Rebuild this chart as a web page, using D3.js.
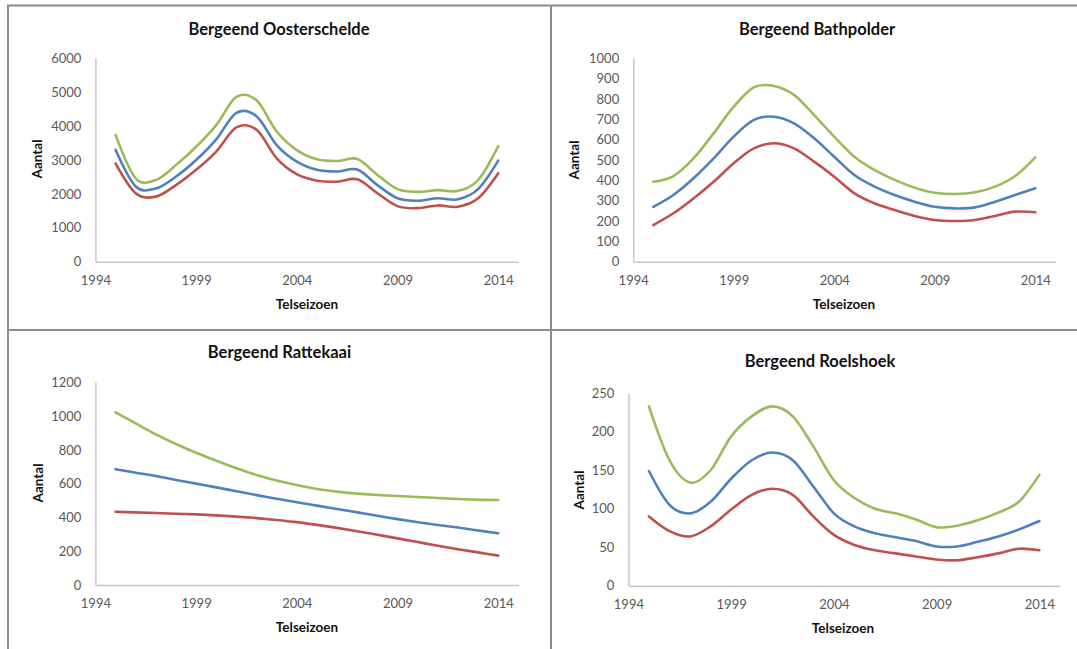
<!DOCTYPE html>
<html>
<head>
<meta charset="utf-8">
<script src="https://cdn.jsdelivr.net/npm/d3@7/dist/d3.min.js"></script>
<style>
  body { margin: 0; background: #fff; }
  svg { display: block; }
  text { font-family: Lato, "Open Sans", sans-serif; }
</style>
</head>
<body>
<div id="chart"></div>
<script>
// telseizoenen
const years = [1995, 1996, 1997, 1998, 1999, 2000, 2001, 2002, 2003, 2004,
               2005, 2006, 2007, 2008, 2009, 2010, 2011, 2012, 2013, 2014];
const xTicks = [1994, 1999, 2004, 2009, 2014];

// Oosterschelde
const oosUpper = [3740, 2460, 2410, 2850, 3390, 4030, 4860, 4760, 3840, 3290, 3020, 2970, 3030, 2560, 2140, 2060, 2110, 2090, 2410, 3410];
const oosTrend = [3300, 2220, 2160, 2510, 3000, 3610, 4390, 4290, 3440, 2950, 2710, 2660, 2720, 2260, 1870, 1800, 1870, 1840, 2140, 2980];
const oosLower = [2900, 2020, 1920, 2260, 2710, 3250, 3960, 3890, 3050, 2580, 2390, 2360, 2430, 2020, 1640, 1580, 1660, 1620, 1870, 2610];

// Bathpolder
const bathUpper = [393, 421, 508, 631, 762, 857, 864, 820, 721, 615, 516, 451, 402, 364, 339, 333, 341, 369, 421, 513];
const bathTrend = [270, 328, 410, 508, 615, 697, 713, 680, 607, 516, 426, 369, 328, 295, 270, 262, 267, 295, 328, 361];
const bathLower = [180, 238, 311, 393, 484, 557, 582, 557, 492, 418, 336, 287, 254, 225, 205, 200, 205, 225, 246, 243];

// Rattekaai
const ratUpper = [1022, 957, 892, 835, 783, 736, 691, 651, 618, 592, 568, 553, 541, 533, 527, 521, 515, 509, 505, 503];
const ratTrend = [685, 665, 645, 622, 600, 578, 555, 532, 511, 490, 470, 450, 430, 410, 390, 372, 355, 340, 323, 306];
const ratLower = [434, 430, 426, 422, 418, 412, 405, 396, 385, 372, 356, 338, 318, 297, 276, 254, 232, 212, 193, 174];

// Roelshoek
const roeUpper = [233, 163, 134, 150, 194, 220, 233, 220, 181, 137, 114, 100, 94, 86, 76, 78, 85, 95, 109, 144];
const roeTrend = [149, 105, 94, 109, 139, 163, 173, 163, 129, 94, 77, 68, 63, 58, 51, 51, 57, 64, 73, 84];
const roeLower = [90, 71, 64, 77, 99, 118, 126, 118, 90, 66, 53, 46, 42, 38, 34, 33, 37, 42, 48, 46];

const W = 1077, H = 649;
const colors = { upper: "#9bbb59", trend: "#4f81bd", lower: "#c0504d" };

const panels = [
  { title: "Bergeend Oosterschelde", yMax: 6000, yStep: 1000,
    left: 95.4, right: 518.4, top: 58.3, bottom: 261.7,
    titleX: 279, titleY: 29, yLabelX: 37, yLabelY: 159, xLabelX: 307, xLabelY: 304,
    upper: oosUpper, trend: oosTrend, lower: oosLower },
  { title: "Bergeend Bathpolder", yMax: 1000, yStep: 100,
    left: 633.2, right: 1055.4, top: 58.3, bottom: 261.7,
    titleX: 817, titleY: 29.3, yLabelX: 574, yLabelY: 160, xLabelX: 844, xLabelY: 304,
    upper: bathUpper, trend: bathTrend, lower: bathLower },
  { title: "Bergeend Rattekaai", yMax: 1200, yStep: 200,
    left: 95.4, right: 518.4, top: 382.3, bottom: 585,
    titleX: 279.5, titleY: 352.3, yLabelX: 38, yLabelY: 483, xLabelX: 307, xLabelY: 627.3,
    upper: ratUpper, trend: ratTrend, lower: ratLower },
  { title: "Bergeend Roelshoek", yMax: 250, yStep: 50,
    left: 628.4, right: 1059.9, top: 393.3, bottom: 585.7,
    titleX: 820, titleY: 361.7, yLabelX: 579, yLabelY: 490, xLabelX: 843, xLabelY: 628.3,
    upper: roeUpper, trend: roeTrend, lower: roeLower }
];

const svg = d3.select("#chart").append("svg")
  .attr("width", W)
  .attr("height", H);

// kaders rond de vier grafieken
const frame = svg.append("g")
  .attr("stroke", "#8c8c8c")
  .attr("stroke-width", 2);
frame.append("line").attr("x1", 7).attr("x2", W).attr("y1", 5.5).attr("y2", 5.5);
frame.append("line").attr("x1", 8).attr("x2", 8).attr("y1", 5).attr("y2", H);
frame.append("line").attr("x1", 551).attr("x2", 551).attr("y1", 5).attr("y2", H);
frame.append("line").attr("x1", 8).attr("x2", W).attr("y1", 330).attr("y2", 330);

panels.forEach(p => {
  const g = svg.append("g");

  const x = d3.scaleLinear().domain([1994, 2015]).range([p.left, p.right]);
  const y = d3.scaleLinear().domain([0, p.yMax]).range([p.bottom, p.top]);

  // y-as
  const yAxis = d3.axisLeft(y)
    .tickValues(d3.range(0, p.yMax + 1, p.yStep))
    .tickSize(0)
    .tickPadding(14)
    .tickFormat(d3.format("d"));
  const ya = g.append("g")
    .attr("transform", "translate(" + p.left + ",0)")
    .call(yAxis);
  ya.select(".domain").attr("stroke", "#c6c6c6").attr("stroke-width", 1.5);
  ya.selectAll("text")
    .attr("fill", "#595959")
    .style("font-size", "13px");

  // x-as
  const xAxis = d3.axisBottom(x)
    .tickValues(xTicks)
    .tickSize(0)
    .tickPadding(14)
    .tickFormat(d3.format("d"));
  const xa = g.append("g")
    .attr("transform", "translate(0," + p.bottom + ")")
    .call(xAxis);
  xa.select(".domain").attr("stroke", "#c6c6c6").attr("stroke-width", 1.5);
  xa.selectAll("text")
    .attr("fill", "#595959")
    .style("font-size", "13px");

  const line = d3.line()
    .x((d, i) => x(years[i]))
    .y(d => y(d))
    .curve(d3.curveCardinal.tension(0));

  ["upper", "trend", "lower"].forEach(key => {
    g.append("path")
      .datum(p[key])
      .attr("d", line)
      .attr("fill", "none")
      .attr("stroke", colors[key])
      .attr("stroke-width", 2.6)
      .attr("stroke-linejoin", "round")
      .attr("stroke-linecap", "round");
  });

  g.append("text")
    .attr("x", p.titleX)
    .attr("y", p.titleY)
    .attr("dy", "0.35em")
    .attr("text-anchor", "middle")
    .style("font-size", "16.5px")
    .style("font-weight", "bold")
    .attr("fill", "#111")
    .text(p.title);

  g.append("text")
    .attr("x", p.xLabelX)
    .attr("y", p.xLabelY)
    .attr("dy", "0.35em")
    .attr("text-anchor", "middle")
    .style("font-size", "13.5px")
    .style("font-weight", "bold")
    .attr("fill", "#111")
    .text("Telseizoen");

  g.append("text")
    .attr("transform", "translate(" + p.yLabelX + "," + p.yLabelY + ") rotate(-90)")
    .attr("dy", "0.35em")
    .attr("text-anchor", "middle")
    .style("font-size", "13.5px")
    .style("font-weight", "bold")
    .attr("fill", "#111")
    .text("Aantal");
});
</script>
</body>
</html>
